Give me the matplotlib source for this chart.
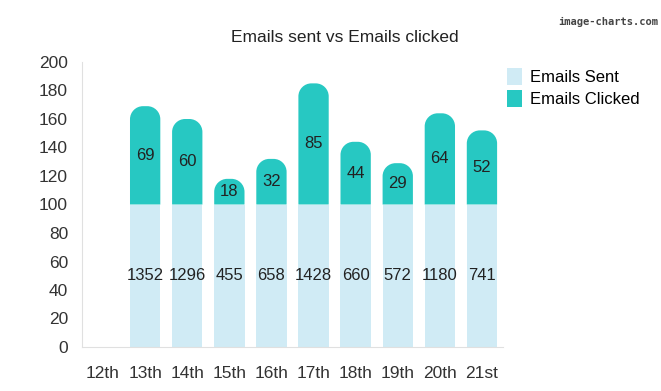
import matplotlib.pyplot as plt
from matplotlib.path import Path
from matplotlib.patches import PathPatch, Patch

plt.rcParams['font.family'] = ['Liberation Sans', 'DejaVu Sans']

days = ['12th', '13th', '14th', '15th', '16th', '17th', '18th', '19th', '20th', '21st']
sent = [0, 1352, 1296, 455, 658, 1428, 660, 572, 1180, 741]
# the chart draws every sent bar at the same scaled height
sent_scaled = [0, 100, 100, 100, 100, 100, 100, 100, 100, 100]
clicked = [0, 69, 60, 18, 32, 85, 44, 29, 64, 52]

sent_color = '#d0ebf5'
click_color = '#27c8c2'


def rounded_top(x, y, w, h, rx, ry):
    # rectangle with rounded top corners (radius given in data units on each axis)
    ry = min(ry, h)
    k = 0.5523
    verts = [
        (x, y), (x + w, y), (x + w, y + h - ry),
        (x + w, y + h - ry + k * ry), (x + w - rx + k * rx, y + h), (x + w - rx, y + h),
        (x + rx, y + h),
        (x + rx - k * rx, y + h), (x, y + h - ry + k * ry), (x, y + h - ry),
        (x, y), (x, y),
    ]
    codes = [Path.MOVETO, Path.LINETO, Path.LINETO,
             Path.CURVE4, Path.CURVE4, Path.CURVE4,
             Path.LINETO,
             Path.CURVE4, Path.CURVE4, Path.CURVE4,
             Path.LINETO, Path.CLOSEPOLY]
    return Path(verts, codes)


fig = plt.figure(figsize=(6.61, 3.91), dpi=100)
ax = fig.add_axes([82 / 661, 1 - 347 / 391, (503 - 82) / 661, (347 - 62) / 391])

x = list(range(len(days)))
width = 0.72
ax.set_xlim(-0.5, len(days) - 0.5)
ax.set_ylim(0, 200)

bars_sent = ax.bar(x, sent_scaled, width=width, color=sent_color, label='Emails Sent')
bars_click = ax.bar(x, clicked, width=width, bottom=sent_scaled, color=click_color,
                    label='Emails Clicked')

# swap the clicked rectangles for rounded-top versions
radius_px = 13
fig.canvas.draw()
px_per_x = ax.transData.transform((1, 0))[0] - ax.transData.transform((0, 0))[0]
px_per_y = ax.transData.transform((0, 1))[1] - ax.transData.transform((0, 0))[1]
for b in bars_click:
    if b.get_height() <= 0:
        continue
    p = rounded_top(b.get_x(), b.get_y(), b.get_width(), b.get_height(),
                    radius_px / px_per_x, radius_px / px_per_y)
    ax.add_patch(PathPatch(p, facecolor=click_color, edgecolor='none'))
    b.set_visible(False)

for xi, s, sh, c in zip(x, sent, sent_scaled, clicked):
    if s:
        ax.text(xi, sh / 2, str(s), ha='center', va='center', fontsize=12, color='#222222')
    if c:
        ax.text(xi, sh + c / 2, str(c), ha='center', va='center', fontsize=12, color='#222222')

ax.set_xticks(x)
ax.set_xticklabels(days)
ax.set_yticks(range(0, 201, 20))
ax.tick_params(length=0, labelsize=12.5, labelcolor='#333333')
ax.tick_params(axis='x', pad=14)
ax.tick_params(axis='y', pad=10)
for side in ['top', 'right']:
    ax.spines[side].set_visible(False)
for side in ['left', 'bottom']:
    ax.spines[side].set_color('#e0e0e0')

fig.text(345 / 661, 1 - 38 / 391, 'Emails sent vs Emails clicked', ha='center', va='center',
         fontsize=12.5, color='#222222')

handles = [Patch(facecolor=sent_color), Patch(facecolor=click_color)]
fig.legend(handles, ['Emails Sent', 'Emails Clicked'], loc='upper left',
           bbox_to_anchor=(500 / 661, 1 - 61 / 391), frameon=False, fontsize=12,
           handlelength=0.9, handleheight=1.2, handletextpad=0.5, labelspacing=0.3,
           borderaxespad=0)

fig.text(608 / 661, 1 - 22 / 391, 'image-charts.com', ha='center', va='center',
         fontsize=7.5, color='#444444', family='DejaVu Sans Mono', weight='bold')

fig.savefig('out.png', dpi=100)
